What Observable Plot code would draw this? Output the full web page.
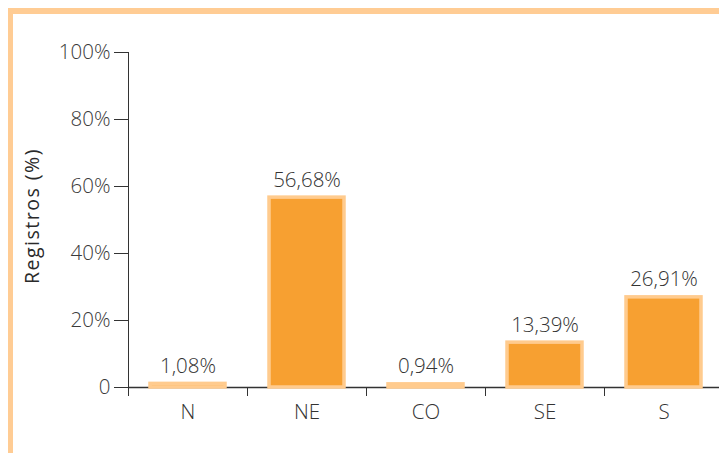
<!DOCTYPE html>
<html>
<head>
<meta charset="utf-8">
<script src="https://cdn.jsdelivr.net/npm/d3@7"></script>
<script src="https://cdn.jsdelivr.net/npm/@observablehq/plot@0.6"></script>
<style>
  html, body { margin: 0; padding: 0; background: #fff; }
  #wrap { position: relative; width: 719px; height: 453px; overflow: hidden; }
  #border { position: absolute; left: 8px; top: 8px; right: -10px; bottom: -10px;
            border-left: 5px solid #FFCC94; border-top: 6px solid #FFCC94; pointer-events: none; }
  svg { display: block; }
</style>
</head>
<body>
<div id="wrap"><div id="border"></div></div>
<script>
const regions = ["N", "NE", "CO", "SE", "S"];
const values = [1.08, 56.68, 0.94, 13.39, 26.91];
const valueLabels = ["1,08%", "56,68%", "0,94%", "13,39%", "26,91%"];
const yTicks = [0, 20, 40, 60, 80, 100];
const yLabel = "Registros (%)";

const data = regions.map((r, i) => ({region: r, i, value: values[i], label: valueLabels[i]}));
const font = "'Open Sans', 'Noto Sans', sans-serif";

const chart = Plot.plot({
  width: 719,
  height: 453,
  marginLeft: 128,
  marginRight: 0,
  marginTop: 52,
  marginBottom: 66,
  style: {fontFamily: font, background: "transparent"},
  x: {type: "linear", domain: [0, regions.length], range: [128, 723], axis: null},
  y: {domain: [0, 100], axis: null},
  marks: [
    Plot.axisY({
      ticks: yTicks, tickSize: 14, tickPadding: 4,
      tickFormat: d => d === 0 ? "0" : d + "%",
      fontSize: 20.5, fontWeight: 300, fill: "#3a3a3a", stroke: "#333", label: null
    }),
    Plot.axisX({
      ticks: d3.range(regions.length), tickSize: 9, tickFormat: () => "",
      stroke: "#333", label: null
    }),
    Plot.ruleX([0], {stroke: "#333"}),
    Plot.ruleY([0], {stroke: "#333", strokeWidth: 1.3}),
    Plot.rectY(data, {
      x1: "i", x2: d => d.i + 1, y: "value",
      insetLeft: 22, insetRight: 22,
      fill: "#F7A031", stroke: "#FFCB8E", strokeWidth: 3.5
    }),
    Plot.text(data, {
      x: d => d.i + 0.5, y: "value", text: "label",
      lineAnchor: "bottom", dy: -11,
      fontSize: 20.5, fontWeight: 300, fill: "#333"
    }),
    Plot.text(data, {
      x: d => d.i + 0.5, y: 0, text: "region",
      lineAnchor: "top", dy: 17,
      fontSize: 20.5, fontWeight: 300, fill: "#333"
    }),
    Plot.text([yLabel], {
      frameAnchor: "left", textAnchor: "middle", dx: -96, dy: -4, rotate: -90,
      text: d => d, fontSize: 19.5, fill: "#2a2a2a"
    })
  ]
});

// slight letter spacing for the y-axis title
d3.select(chart).selectAll("text")
  .filter(function () { return this.textContent === yLabel; })
  .attr("letter-spacing", "1.5px");

document.getElementById("wrap").prepend(chart);
</script>
</body>
</html>
